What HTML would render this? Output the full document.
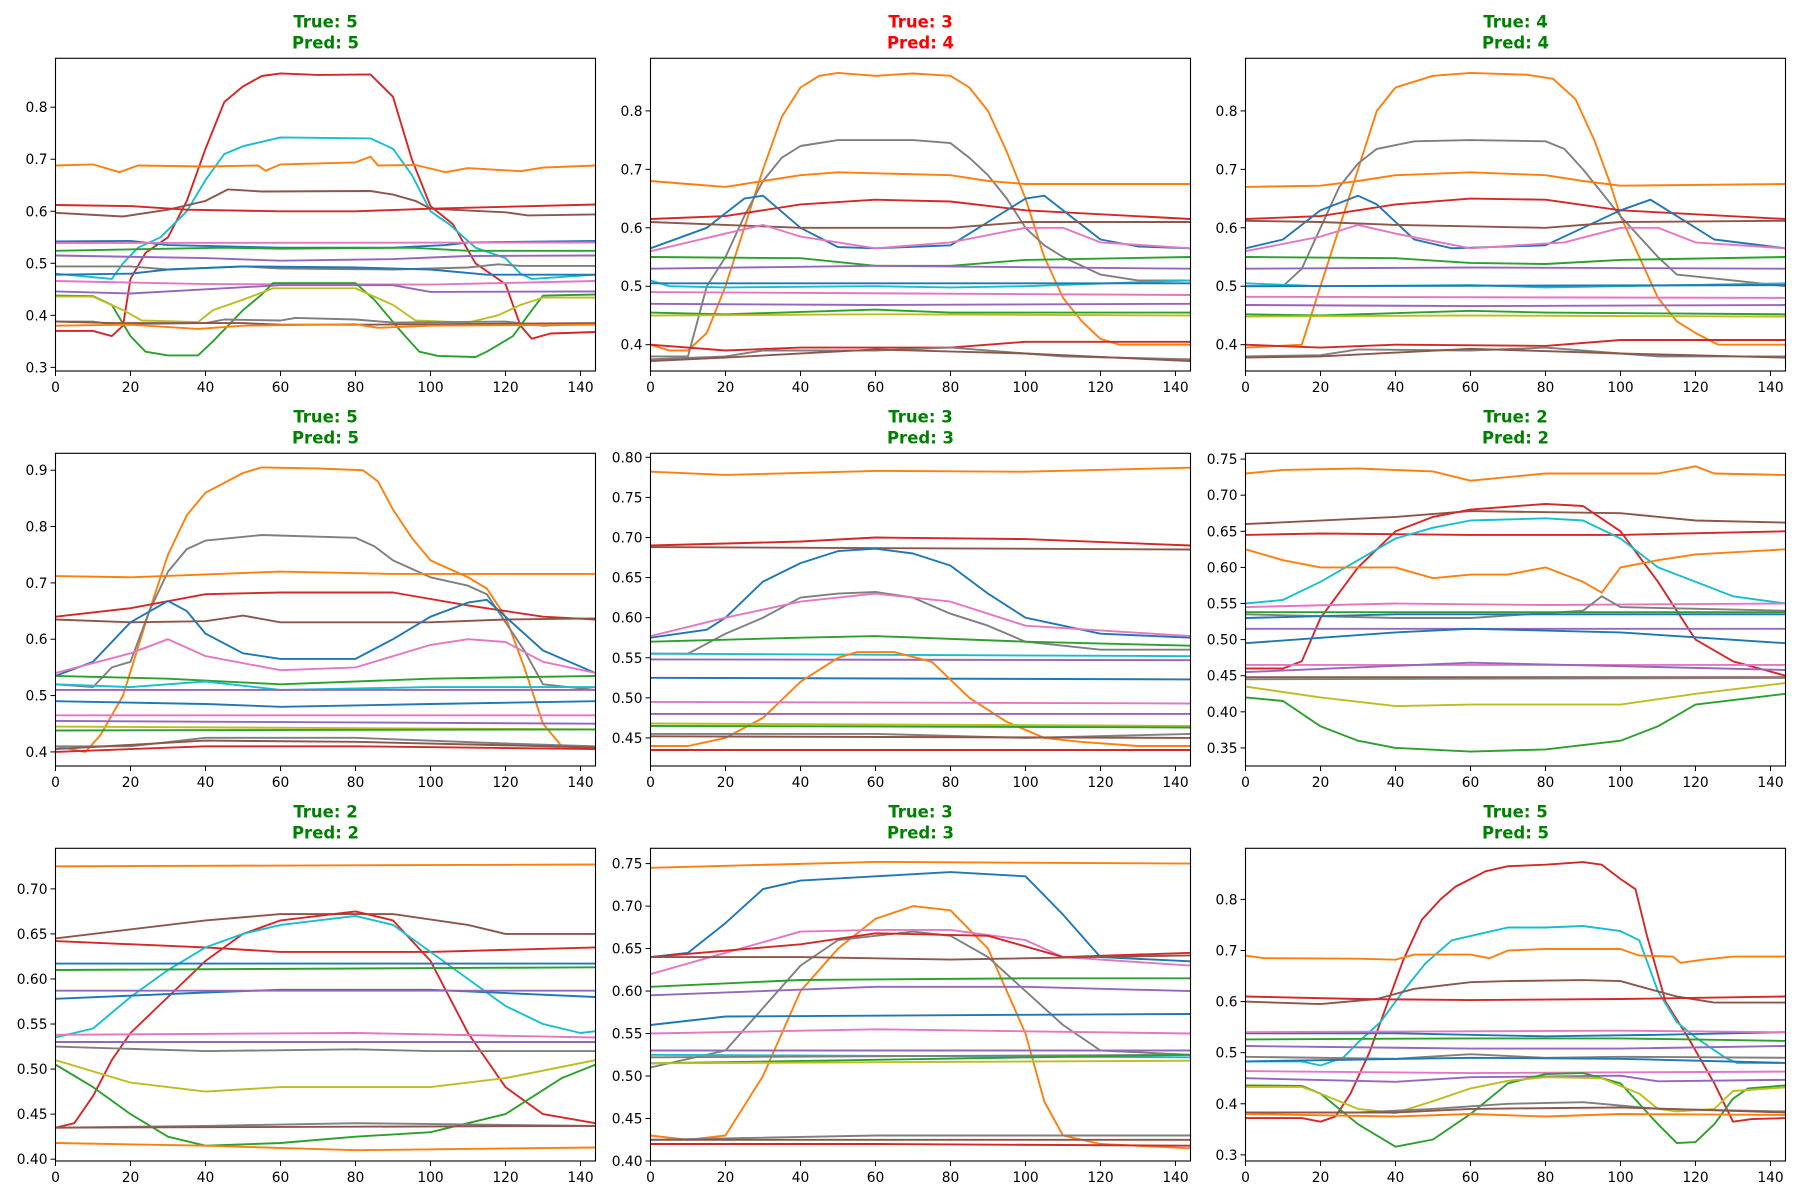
<!DOCTYPE html>
<html><head><meta charset="utf-8"><style>
body{margin:0;background:#fff}
svg{display:block}
text{font-family:"DejaVu Sans","Liberation Sans",sans-serif}
</style></head><body>
<svg id="fig" width="1800" height="1200" viewBox="0 0 1800 1200" xmlns="http://www.w3.org/2000/svg"></svg>
<script>
const C={b:'#1f77b4',o:'#ff7f0e',g:'#2ca02c',r:'#d62728',p:'#9467bd',n:'#8c564b',k:'#e377c2',y:'#7f7f7f',l:'#bcbd22',c:'#17becf'};
const titlesTrue=[5,3,4,5,3,2,2,3,5];
const titlesPred=[5,4,4,5,3,2,2,3,5];
const yLims=[[0.293,0.894],[0.355,0.89],[0.355,0.89],[0.375,0.93],[0.415,0.805],[0.325,0.758],[0.398,0.745],[0.40,0.768],[0.288,0.90]];
const yTicks=[[0.3,0.4,0.5,0.6,0.7,0.8],[0.4,0.5,0.6,0.7,0.8],[0.4,0.5,0.6,0.7,0.8],[0.4,0.5,0.6,0.7,0.8,0.9],
[0.45,0.5,0.55,0.6,0.65,0.7,0.75,0.8],[0.35,0.4,0.45,0.5,0.55,0.6,0.65,0.7,0.75],[0.4,0.45,0.5,0.55,0.6,0.65,0.7],[0.4,0.45,0.5,0.55,0.6,0.65,0.7,0.75],[0.3,0.4,0.5,0.6,0.7,0.8]];
const yDec=[1,1,1,1,2,2,2,2,1];
const xTicks=[0,20,40,60,80,100,120,140];
const series1=[
['r',[0,.37,10,.37,15,.36,18,.38,20,.47,24,.52,30,.55,35,.62,40,.72,45,.81,50,.84,55,.86,60,.865,70,.862,84,.863,90,.82,95,.7,100,.61,106,.575,112,.5,120,.46,124,.38,127,.355,132,.365,144,.368]],
['c',[0,.48,15,.47,18,.5,22,.53,28,.55,35,.6,40,.66,45,.71,50,.725,60,.742,84,.74,90,.72,95,.67,100,.6,105,.575,112,.53,120,.51,124,.48,127,.47,144,.478]],
['o',[0,.688,10,.69,17,.675,22,.688,40,.686,54,.688,56,.678,60,.69,80,.694,84,.705,86,.688,96,.689,104,.675,110,.683,124,.677,130,.684,144,.688]],
['n',[0,.597,18,.59,30,.603,40,.62,46,.642,55,.638,84,.639,90,.632,96,.62,100,.605,120,.598,126,.592,144,.594]],
['r',[0,.612,20,.61,35,.603,60,.6,80,.6,100,.605,144,.613]],
['b',[0,.542,20,.543,30,.535,60,.53,90,.53,104,.535,110,.54,144,.543]],
['k',[0,.539,144,.54]],
['g',[0,.524,45,.53,60,.528,95,.53,110,.524,144,.524]],
['p',[0,.515,40,.51,60,.505,90,.508,110,.514,144,.515]],
['y',[0,.494,20,.494,30,.488,50,.494,60,.49,90,.488,110,.492,118,.498,124,.495,144,.495]],
['b',[0,.478,20,.48,30,.488,50,.494,80,.492,100,.488,115,.478,144,.478]],
['k',[0,.466,40,.46,100,.459,144,.466]],
['p',[0,.446,20,.442,40,.45,60,.458,90,.458,100,.445,144,.446]],
['g',[0,.438,10,.437,15,.42,20,.36,24,.33,30,.323,38,.323,42,.35,50,.41,55,.44,58,.462,80,.462,85,.43,92,.37,97,.33,102,.322,112,.32,115,.33,122,.36,126,.4,130,.438,144,.44]],
['l',[0,.436,10,.436,18,.41,23,.39,38,.387,42,.41,50,.43,58,.452,80,.452,90,.42,96,.39,110,.386,118,.4,124,.42,130,.434,144,.434]],
['y',[0,.388,10,.388,15,.383,40,.385,45,.392,60,.39,64,.395,80,.392,90,.386,120,.388,130,.38,144,.384]],
['n',[0,.388,15,.385,50,.385,60,.382,80,.382,144,.385]],
['o',[0,.38,20,.382,38,.374,50,.38,80,.383,86,.376,100,.38,144,.382]]];
const series2=[
['o',[0,.4,5,.39,10,.39,15,.42,20,.5,25,.6,30,.7,35,.79,40,.84,45,.86,50,.865,60,.86,70,.864,80,.86,85,.84,90,.8,95,.73,100,.65,105,.55,110,.48,115,.44,120,.41,125,.4,144,.4]],
['y',[0,.38,10,.38,15,.5,20,.55,25,.62,30,.68,35,.72,40,.74,50,.75,70,.75,80,.745,85,.72,90,.69,95,.65,100,.6,105,.57,110,.55,120,.52,130,.51,144,.51]],
['o',[0,.68,10,.675,20,.67,30,.68,40,.69,50,.695,80,.69,90,.68,100,.675,144,.675]],
['r',[0,.615,20,.62,40,.64,60,.648,80,.645,100,.63,144,.615]],
['b',[0,.565,15,.6,25,.65,30,.655,40,.6,50,.567,60,.565,80,.57,90,.61,100,.65,105,.655,110,.63,120,.58,130,.568,144,.565]],
['n',[0,.61,20,.605,40,.6,80,.6,100,.61,144,.61]],
['k',[0,.56,20,.59,30,.605,40,.585,60,.565,80,.575,100,.6,110,.6,120,.575,144,.565]],
['g',[0,.55,40,.548,60,.535,80,.535,100,.545,144,.55]],
['p',[0,.53,60,.535,144,.53]],
['c',[0,.51,5,.5,20,.498,60,.5,80,.498,100,.5,144,.51]],
['b',[0,.505,144,.505]],
['k',[0,.49,144,.485]],
['p',[0,.47,60,.468,144,.47]],
['g',[0,.455,20,.452,60,.46,80,.455,144,.455]],
['l',[0,.45,60,.452,144,.45]],
['r',[0,.4,20,.39,40,.395,80,.395,100,.405,144,.405]],
['y',[0,.375,20,.38,30,.39,60,.39,80,.395,100,.385,110,.38,144,.375]],
['n',[0,.372,20,.378,60,.392,100,.385,144,.372]]];
const series3=[
['o',[0,.395,15,.4,20,.5,25,.6,30,.7,35,.8,40,.84,50,.86,60,.865,75,.862,82,.855,88,.82,93,.75,97,.68,100,.62,105,.55,110,.48,115,.44,120,.42,126,.4,144,.4]],
['y',[0,.5,10,.5,15,.53,20,.6,25,.67,30,.71,35,.735,45,.748,60,.75,80,.748,85,.735,90,.7,95,.66,100,.62,110,.55,115,.52,130,.51,144,.5]],
['o',[0,.67,20,.672,30,.68,40,.69,60,.695,80,.69,90,.68,100,.672,144,.675]],
['r',[0,.615,20,.62,40,.64,60,.65,80,.648,100,.63,144,.615]],
['b',[0,.565,10,.58,20,.63,30,.655,35,.64,45,.58,55,.565,80,.57,90,.6,100,.63,108,.648,115,.62,125,.58,144,.565]],
['n',[0,.612,20,.61,40,.605,80,.6,100,.61,144,.612]],
['k',[0,.56,20,.585,30,.605,40,.59,60,.565,85,.575,100,.6,110,.6,120,.575,144,.565]],
['g',[0,.55,40,.548,60,.54,80,.538,100,.545,144,.55]],
['p',[0,.53,60,.532,144,.53]],
['c',[0,.505,20,.5,60,.502,80,.498,100,.5,144,.505]],
['b',[0,.5,144,.502]],
['k',[0,.482,144,.48]],
['p',[0,.468,60,.466,144,.468]],
['g',[0,.452,20,.45,60,.458,80,.455,144,.452]],
['l',[0,.448,60,.45,144,.448]],
['r',[0,.4,20,.395,40,.4,80,.398,100,.408,144,.408]],
['y',[0,.38,20,.382,30,.392,60,.39,80,.395,100,.385,110,.38,144,.38]],
['n',[0,.378,20,.38,60,.393,100,.385,144,.378]]];
const series4=[
['o',[0,.41,8,.4,12,.43,18,.5,25,.65,30,.75,35,.82,40,.86,50,.895,55,.905,70,.903,82,.9,86,.88,90,.83,95,.78,100,.74,110,.71,115,.69,120,.64,125,.55,130,.45,135,.41,144,.405]],
['y',[0,.52,10,.515,15,.55,20,.56,25,.65,30,.72,35,.76,40,.775,55,.785,80,.78,85,.765,90,.74,100,.71,110,.695,115,.68,120,.63,125,.58,130,.52,144,.51]],
['o',[0,.712,20,.71,40,.715,60,.72,90,.716,144,.716]],
['r',[0,.64,20,.655,40,.68,60,.683,90,.683,110,.66,130,.64,144,.635]],
['n',[0,.635,20,.63,40,.632,50,.642,60,.63,100,.63,120,.635,144,.637]],
['b',[0,.535,10,.56,20,.63,30,.668,35,.65,40,.61,50,.575,60,.565,80,.565,90,.6,100,.64,110,.665,115,.67,120,.64,130,.58,144,.54]],
['k',[0,.54,20,.575,30,.6,40,.57,60,.545,80,.55,100,.59,110,.6,120,.595,130,.56,144,.54]],
['g',[0,.535,30,.53,60,.52,100,.53,144,.535]],
['c',[0,.52,20,.515,40,.525,60,.51,100,.515,144,.515]],
['p',[0,.51,144,.51]],
['b',[0,.49,40,.485,60,.48,100,.485,144,.49]],
['k',[0,.465,144,.465]],
['p',[0,.455,144,.45]],
['l',[0,.445,144,.44]],
['g',[0,.438,144,.44]],
['y',[0,.41,20,.41,40,.425,80,.425,120,.415,144,.41]],
['n',[0,.405,40,.42,80,.418,144,.408]],
['r',[0,.4,40,.41,80,.41,144,.405]]];
const series5=[
['o',[0,.782,20,.778,60,.783,100,.782,144,.787]],
['r',[0,.69,40,.695,60,.7,100,.698,144,.69]],
['n',[0,.688,144,.685]],
['b',[0,.575,15,.585,20,.6,30,.645,40,.668,50,.683,60,.686,70,.68,80,.665,90,.63,100,.6,120,.58,144,.575]],
['y',[0,.555,10,.555,20,.58,30,.6,40,.625,50,.63,60,.632,70,.625,80,.605,90,.59,100,.57,120,.56,144,.56]],
['k',[0,.577,20,.6,40,.62,60,.63,80,.62,90,.605,100,.59,144,.577]],
['g',[0,.57,40,.575,60,.577,100,.57,144,.565]],
['c',[0,.555,144,.552]],
['p',[0,.548,144,.547]],
['b',[0,.525,144,.523]],
['o',[0,.44,10,.44,20,.45,30,.475,40,.52,50,.55,55,.557,65,.557,75,.545,85,.5,95,.47,105,.45,115,.445,130,.44,144,.44]],
['k',[0,.495,144,.493]],
['p',[0,.48,144,.48]],
['l',[0,.468,144,.465]],
['g',[0,.465,144,.463]],
['y',[0,.455,60,.455,100,.45,144,.455]],
['n',[0,.452,144,.45]],
['r',[0,.435,144,.435]]];
const series6=[
['o',[0,.73,10,.735,30,.737,50,.733,60,.72,80,.73,110,.73,120,.74,125,.73,144,.728]],
['n',[0,.66,40,.67,60,.678,100,.675,120,.665,144,.662]],
['r',[0,.645,20,.647,60,.645,80,.645,100,.645,144,.65]],
['r',[0,.46,10,.46,15,.47,20,.53,30,.6,40,.65,50,.67,60,.68,80,.688,90,.685,100,.65,110,.58,120,.5,130,.47,144,.45]],
['c',[0,.55,10,.555,20,.58,30,.61,40,.64,50,.655,60,.665,80,.668,90,.665,100,.64,110,.6,120,.58,130,.56,144,.55]],
['o',[0,.625,10,.61,20,.6,40,.6,50,.585,60,.59,70,.59,80,.6,90,.58,95,.565,100,.6,110,.61,120,.618,144,.625]],
['k',[0,.545,40,.55,80,.548,144,.55]],
['y',[0,.535,40,.53,60,.53,90,.54,95,.56,100,.545,144,.54]],
['g',[0,.538,144,.538]],
['b',[0,.53,40,.535,144,.535]],
['p',[0,.515,144,.515]],
['b',[0,.495,40,.51,60,.515,100,.51,144,.495]],
['k',[0,.465,144,.465]],
['p',[0,.455,60,.468,144,.458]],
['n',[0,.448,144,.448]],
['y',[0,.445,144,.447]],
['l',[0,.435,20,.42,40,.408,60,.41,100,.41,120,.425,144,.44]],
['g',[0,.42,10,.415,20,.38,30,.36,40,.35,60,.345,80,.348,100,.36,110,.38,120,.41,144,.425]]];
const series7=[
['o',[0,.725,144,.727]],
['n',[0,.645,40,.665,60,.672,90,.672,110,.66,120,.65,144,.65]],
['r',[0,.642,40,.635,60,.63,100,.63,144,.635]],
['r',[0,.435,5,.44,10,.47,15,.51,20,.54,30,.58,40,.62,50,.65,60,.665,80,.675,90,.665,100,.62,110,.54,120,.48,130,.45,144,.44]],
['c',[0,.535,10,.545,20,.58,30,.61,40,.635,50,.65,60,.66,80,.67,90,.66,100,.63,110,.6,120,.57,130,.55,140,.54,144,.542]],
['b',[0,.617,144,.617]],
['g',[0,.61,144,.613]],
['b',[0,.578,40,.585,60,.588,100,.588,144,.58]],
['p',[0,.587,144,.587]],
['k',[0,.538,80,.54,144,.535]],
['p',[0,.53,144,.53]],
['y',[0,.525,40,.52,80,.522,100,.52,144,.52]],
['l',[0,.51,20,.485,40,.475,60,.48,100,.48,120,.49,144,.51]],
['g',[0,.505,10,.48,20,.45,30,.425,40,.415,60,.418,80,.425,100,.43,120,.45,135,.49,144,.505]],
['y',[0,.435,40,.437,80,.44,144,.437]],
['n',[0,.435,144,.437]],
['o',[0,.418,40,.415,80,.41,144,.413]]];
const series8=[
['o',[0,.745,60,.752,144,.75]],
['b',[0,.64,10,.645,20,.68,30,.72,40,.73,60,.735,80,.74,100,.735,110,.69,120,.64,144,.635]],
['o',[0,.43,10,.425,20,.43,30,.5,40,.6,50,.65,60,.685,70,.7,80,.695,90,.65,100,.55,105,.47,110,.43,120,.42,144,.415]],
['k',[0,.62,20,.645,40,.67,60,.672,80,.672,100,.66,110,.64,144,.63]],
['y',[0,.51,20,.53,30,.58,40,.63,50,.66,70,.67,80,.665,90,.64,100,.6,110,.56,120,.53,144,.525]],
['r',[0,.64,40,.655,60,.668,90,.665,110,.64,144,.645]],
['n',[0,.64,40,.64,80,.637,144,.642]],
['g',[0,.605,40,.613,100,.615,144,.615]],
['p',[0,.595,60,.605,100,.605,144,.6]],
['b',[0,.56,20,.57,100,.572,144,.573]],
['k',[0,.55,60,.555,144,.55]],
['p',[0,.53,144,.53]],
['c',[0,.525,144,.522]],
['y',[0,.522,144,.525]],
['g',[0,.515,144,.525]],
['l',[0,.515,144,.518]],
['y',[0,.425,60,.43,100,.43,144,.43]],
['n',[0,.425,144,.425]],
['r',[0,.42,60,.42,144,.418]]];
const series9=[
['r',[0,.372,15,.372,20,.365,24,.375,28,.42,33,.5,37,.58,42,.68,47,.76,52,.8,56,.825,60,.84,64,.855,70,.865,80,.868,90,.873,95,.868,100,.84,104,.82,107,.73,112,.6,118,.53,125,.44,130,.365,135,.37,144,.372]],
['c',[0,.483,15,.483,20,.475,26,.49,30,.52,36,.56,42,.62,48,.675,55,.72,64,.735,70,.745,80,.745,90,.748,100,.738,105,.72,110,.62,115,.56,120,.53,128,.49,131,.48,144,.48]],
['o',[0,.69,5,.685,30,.684,40,.682,45,.692,60,.692,65,.685,70,.7,80,.703,100,.703,105,.69,114,.688,116,.676,122,.682,130,.688,144,.688]],
['n',[0,.6,20,.595,35,.605,45,.625,60,.638,70,.64,90,.642,100,.64,105,.63,115,.61,125,.598,144,.598]],
['r',[0,.61,30,.605,60,.603,100,.605,144,.61]],
['b',[0,.538,40,.538,80,.532,110,.535,144,.54]],
['k',[0,.54,100,.543,144,.54]],
['g',[0,.526,60,.528,100,.528,144,.523]],
['p',[0,.513,60,.508,100,.508,144,.513]],
['y',[0,.492,40,.488,60,.497,80,.49,100,.492,144,.49]],
['b',[0,.483,60,.49,100,.488,144,.48]],
['k',[0,.464,60,.46,144,.463]],
['p',[0,.45,40,.443,60,.452,100,.455,110,.444,144,.447]],
['g',[0,.436,15,.435,20,.42,30,.36,40,.316,50,.33,60,.38,70,.44,80,.458,90,.46,100,.44,110,.36,115,.323,120,.325,125,.36,130,.41,134,.43,144,.436]],
['l',[0,.433,15,.433,20,.42,30,.39,40,.382,50,.405,60,.43,70,.445,80,.452,95,.45,105,.42,110,.39,115,.385,125,.39,130,.425,144,.432]],
['y',[0,.383,30,.383,50,.39,60,.395,70,.4,90,.403,110,.39,144,.385]],
['n',[0,.383,40,.383,60,.39,100,.393,144,.383]],
['o',[0,.38,40,.375,60,.38,80,.375,100,.38,144,.378]]];
const allSeries=[series1,series2,series3,series4,series5,series6,series7,series8,series9];

const NS='http://www.w3.org/2000/svg';
const svg=document.getElementById('fig');
function mk(tag,attrs,parent){const e=document.createElementNS(NS,tag);for(const k in attrs)e.setAttribute(k,attrs[k]);(parent||svg).appendChild(e);return e;}
const colLeft=[55.5,650.5,1245.5],rowTop=[58.3,453.3,848.3],W=540,H=312.7,XMAX=144;
for(let i=0;i<9;i++){
  const L=colLeft[i%3],T=rowTop[Math.floor(i/3)];
  const [y0,y1]=yLims[i];
  const sx=v=>L+v/XMAX*W, sy=v=>T+H-(v-y0)/(y1-y0)*H;
  const g=mk('g',{});
  
  
  const ok=titlesTrue[i]===titlesPred[i];const col=ok?'#008000':'#ff0000';
  const t1=mk('text',{x:L+W/2,y:T-31,'text-anchor':'middle','font-size':'16.5','font-weight':'bold',fill:col},g);t1.textContent='True: '+titlesTrue[i];
  
  
  const t2=mk('text',{x:L+W/2,y:T-10,'text-anchor':'middle','font-size':'16.5','font-weight':'bold',fill:col},g);t2.textContent='Pred: '+titlesPred[i];
  
  
  const cid='clip'+i;const cp=mk('clipPath',{id:cid},g);mk('rect',{x:L,y:T,width:W,height:H},cp);
  const lg=mk('g',{'clip-path':'url(#'+cid+')'},g);
  allSeries[i].forEach((s,j)=>{
    const v=s[1];let pts=[];
    for(let k=0;k<v.length;k+=2)pts.push(sx(v[k]).toFixed(1)+','+sy(v[k+1]).toFixed(1));
    const pl=mk('polyline',{points:pts.join(' '),fill:'none',stroke:C[s[0]],'stroke-width':'1.9','stroke-linejoin':'round'},lg);
    
    
  });
  const fr=mk('rect',{x:L,y:T,width:W,height:H,fill:'none',stroke:'#000','stroke-width':'1.1'},g);
  
  
  xTicks.forEach(v=>{const x=sx(v);mk('line',{x1:x,x2:x,y1:T+H,y2:T+H+5,stroke:'#000','stroke-width':'1'},g);
    const tx=mk('text',{x:x,y:T+H+21,'text-anchor':'middle','font-size':'13.8',fill:'#000'},g);tx.textContent=v;
    
    });
  yTicks[i].forEach(v=>{const y=sy(v);mk('line',{x1:L-5,x2:L,y1:y,y2:y,stroke:'#000','stroke-width':'1'},g);
    const ty=mk('text',{x:L-8,y:y+5,'text-anchor':'end','font-size':'13.8',fill:'#000'},g);ty.textContent=v.toFixed(yDec[i]);
    
    });
}
</script>
</body></html>
